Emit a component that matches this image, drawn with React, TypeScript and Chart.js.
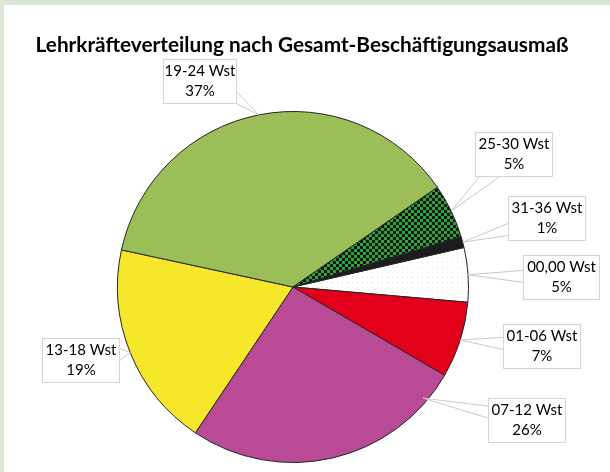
import React, { useEffect, useRef } from "react";
import { Chart, registerables } from "chart.js";

Chart.register(...registerables);

const TITLE = "Lehrkräfteverteilung nach Gesamt-Beschäftigungsausmaß";
const categories = ["00,00 Wst", "01-06 Wst", "07-12 Wst", "13-18 Wst", "19-24 Wst", "25-30 Wst", "31-36 Wst"];
const shares = [5, 7, 26, 19, 37, 5, 1];
const percentLabels = ["5%", "7%", "26%", "19%", "37%", "5%", "1%"];

// label box layout (x, y, w, h) for each category, and where in the slice the leader points
const labelBoxes = [
  { x: 523, y: 255, w: 77, h: 45, frac: 0.5, rf: 1 },
  { x: 503, y: 324, w: 78, h: 45, frac: 0.5, rf: 1 },
  { x: 488, y: 398, w: 78, h: 45, frac: 0.11, rf: 0.975 },
  { x: 42, y: 338, w: 78, h: 45, frac: 0.5, rf: 1 },
  { x: 163, y: 59, w: 74, h: 45, frac: 0.5, rf: 1 },
  { x: 475, y: 132, w: 78, h: 45, frac: 0.5, rf: 1 },
  { x: 508, y: 196, w: 78, h: 45, frac: 0.5, rf: 1 },
];

const FONT = "Lato, 'Open Sans', sans-serif";

function makeChecker(): CanvasPattern | string {
  const c = document.createElement("canvas");
  c.width = 6;
  c.height = 6;
  const g = c.getContext("2d");
  if (!g) return "#2DA43A";
  g.fillStyle = "#2DA43A";
  g.fillRect(0, 0, 6, 6);
  g.fillStyle = "#141414";
  g.fillRect(0, 0, 3, 3);
  g.fillRect(3, 3, 3, 3);
  const p = g.createPattern(c, "repeat");
  return p || "#2DA43A";
}

function makeDots(): CanvasPattern | string {
  const c = document.createElement("canvas");
  c.width = 5;
  c.height = 5;
  const g = c.getContext("2d");
  if (!g) return "#ffffff";
  g.fillStyle = "#ffffff";
  g.fillRect(0, 0, 5, 5);
  g.fillStyle = "#e2e2e2";
  g.fillRect(2, 2, 1, 1);
  const p = g.createPattern(c, "repeat");
  return p || "#ffffff";
}

const framePlugin = {
  id: "frame",
  beforeDraw(chart: any) {
    const ctx = chart.ctx;
    ctx.save();
    ctx.fillStyle = "#DCE6D4";
    ctx.fillRect(0, 0, chart.width, chart.height);
    ctx.fillStyle = "#ffffff";
    ctx.fillRect(4, 5, chart.width - 4, chart.height - 5);
    ctx.restore();
  },
  afterDraw(chart: any) {
    const ctx = chart.ctx;
    ctx.save();
    // title
    let size = 18;
    ctx.font = `bold ${size}px ${FONT}`;
    const w = ctx.measureText(TITLE).width;
    size = (size * 533) / w;
    ctx.font = `bold ${size}px ${FONT}`;
    ctx.fillStyle = "#000000";
    ctx.textAlign = "center";
    ctx.textBaseline = "middle";
    ctx.fillText(TITLE, 302, 45);

    // callouts
    const meta = chart.getDatasetMeta(0);
    meta.data.forEach((arc: any, i: number) => {
      const p = arc.getProps(["x", "y", "startAngle", "endAngle", "outerRadius"], true);
      const b = labelBoxes[i];
      const ang = p.startAngle + (p.endAngle - p.startAngle) * b.frac;
      const r = p.outerRadius * b.rf;
      const px = p.x + r * Math.cos(ang);
      const py = p.y + r * Math.sin(ang);
      const cx = b.x + b.w / 2;
      const cy = b.y + b.h / 2;
      const dx = px - cx;
      const dy = py - cy;
      let b1: [number, number];
      let b2: [number, number];
      if (Math.abs(dx) * b.h > Math.abs(dy) * b.w) {
        const ex = dx > 0 ? b.x + b.w : b.x;
        const t = (ex - cx) / dx;
        let iy = cy + dy * t;
        iy = Math.min(Math.max(iy, b.y + 6), b.y + b.h - 6);
        b1 = [ex, Math.max(iy - 6, b.y)];
        b2 = [ex, Math.min(iy + 6, b.y + b.h)];
      } else {
        const ey = dy > 0 ? b.y + b.h : b.y;
        const t = (ey - cy) / dy;
        let ix = cx + dx * t;
        ix = Math.min(Math.max(ix, b.x + 10), b.x + b.w - 10);
        b1 = [Math.max(ix - 10, b.x), ey];
        b2 = [Math.min(ix + 10, b.x + b.w), ey];
      }
      ctx.strokeStyle = "#C9C9C9";
      ctx.lineWidth = 1;
      ctx.beginPath();
      ctx.moveTo(b1[0], b1[1]);
      ctx.lineTo(px, py);
      ctx.lineTo(b2[0], b2[1]);
      ctx.stroke();

      ctx.fillStyle = "#ffffff";
      ctx.fillRect(b.x, b.y, b.w, b.h);
      ctx.strokeStyle = "#D4D4D4";
      ctx.strokeRect(b.x + 0.5, b.y + 0.5, b.w - 1, b.h - 1);

      ctx.fillStyle = "#000000";
      ctx.font = `15px ${FONT}`;
      ctx.textAlign = "center";
      ctx.textBaseline = "middle";
      ctx.fillText(categories[i], cx, cy - 10);
      ctx.fillText(percentLabels[i], cx, cy + 10);
    });
    ctx.restore();
  },
};

export default function App() {
  const ref = useRef<HTMLCanvasElement | null>(null);
  useEffect(() => {
    document.body.style.margin = "0";
    const canvas = ref.current;
    if (!canvas) return;
    const colors = [
      makeDots(),
      "#E2001A",
      "#B84A96",
      "#F6E72B",
      "#9BBE59",
      makeChecker(),
      "#1C1C1C",
    ];
    const chart = new Chart(canvas, {
      type: "pie",
      data: {
        labels: categories,
        datasets: [
          {
            data: shares,
            backgroundColor: colors as any,
            borderColor: "#262626",
            borderWidth: 1,
          },
        ],
      },
      options: {
        responsive: false,
        animation: false,
        devicePixelRatio: 1,
        events: [],
        rotation: 77,
        layout: { padding: { left: 117, right: 141, top: 111, bottom: 9 } },
        plugins: {
          legend: { display: false },
          tooltip: { enabled: false },
          title: { display: false },
        },
      } as any,
      plugins: [framePlugin],
    });
    return () => chart.destroy();
  }, []);
  return (
    <div style={{ width: 610, height: 472 }}>
      <canvas ref={ref} width={610} height={472} style={{ display: "block", width: 610, height: 472 }} />
    </div>
  );
}
